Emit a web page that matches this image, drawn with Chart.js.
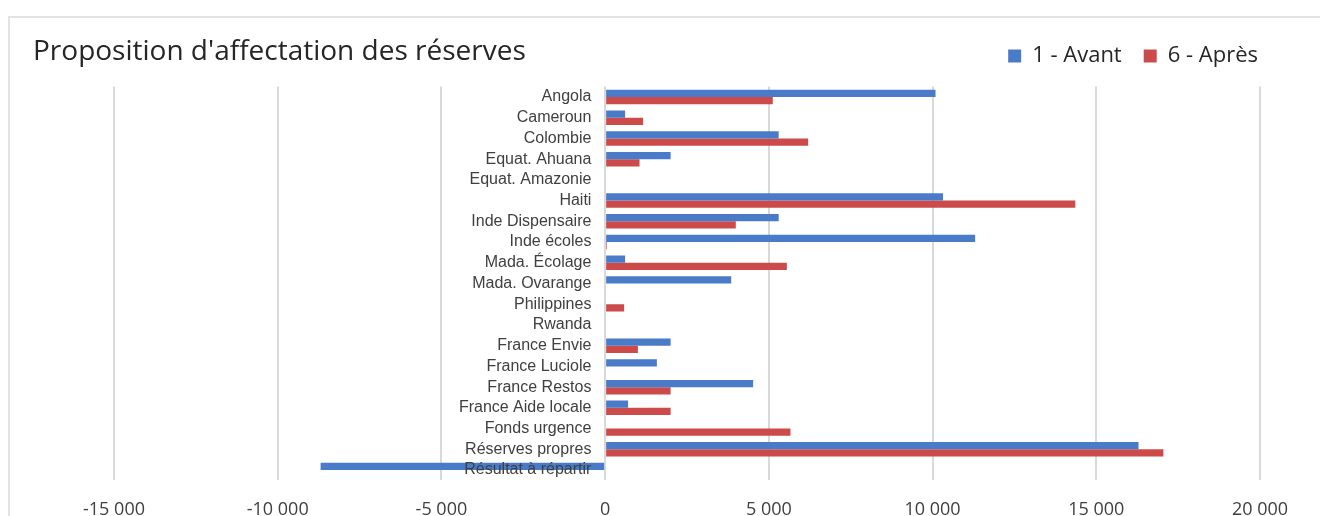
<!DOCTYPE html>
<html>
<head>
<meta charset="utf-8">
<script src="https://cdn.jsdelivr.net/npm/chart.js@4.4.1/dist/chart.umd.min.js"></script>
<style>
  html, body { margin: 0; padding: 0; background: #fff; overflow: hidden; }
  #frame { position: absolute; left: 8px; top: 16px; width: 1330px; height: 520px;
           border: 2px solid #e3e3e3; box-sizing: border-box; }
  #wrap { position: absolute; left: 0; top: 0; width: 1320px; height: 516px; }
</style>
</head>
<body>
<div id="frame"></div>
<div id="wrap"><canvas id="reserves"></canvas></div>
<script>
'use strict'

var categories = ["Angola", "Cameroun", "Colombie", "Equat. Ahuana", "Equat. Amazonie", "Haiti",
  "Inde Dispensaire", "Inde écoles", "Mada. Écolage", "Mada. Ovarange", "Philippines", "Rwanda",
  "France Envie", "France Luciole", "France Restos", "France Aide locale", "Fonds urgence",
  "Réserves propres", "Résultat à répartir"];

var avant = [10090, 610, 5300, 2000, 0, 10320, 5300, 11300, 610, 3850, 0, 0,
  2000, 1580, 4520, 700, 0, 16290, -8690];

var apres = [5120, 1160, 6200, 1050, 0, 14360, 3990, 50, 5550, 0, 580, 0,
  1000, 0, 2000, 2000, 5660, 17050, 0];

var xTicks = [-15000, -10000, -5000, 0, 5000, 10000, 15000, 20000];

function fmt(v) {
  var s = String(Math.abs(v));
  var out = s.length > 3 ? s.slice(0, s.length - 3) + ' ' + s.slice(-3) : s;
  return (v < 0 ? '-' : '') + out;
}

// empty side axes, only used to reserve room so title/legend sit where they should
function spacer(pos, w) {
  return {
    type: 'linear', axis: 'y', position: pos,
    ticks: { display: false },
    grid: { display: false, drawTicks: false },
    border: { display: false },
    afterFit: function (s) { s.width = w; }
  };
}

var ctx = document.getElementById('reserves').getContext('2d');
var chart = new Chart(ctx, {
  type: 'bar',
  data: {
    labels: categories,
    datasets: [{
      label: '1 - Avant',
      data: avant,
      backgroundColor: '#4a7bc8',
      categoryPercentage: 0.7,
      barPercentage: 1.0
    }, {
      label: '6 - Après',
      data: apres,
      backgroundColor: '#cc4a4a',
      categoryPercentage: 0.7,
      barPercentage: 1.0
    }]
  },
  options: {
    indexAxis: 'y',
    responsive: true,
    maintainAspectRatio: false,
    animation: false,
    layout: { padding: { left: 33, right: 40, top: 23, bottom: -24 } },
    plugins: {
      title: {
        display: true,
        weight: 500,
        text: "Proposition d'affectation des réserves",
        align: 'start',
        color: '#262626',
        font: { family: 'Open Sans', size: 28, weight: 'normal' },
        padding: { top: -41.8, bottom: 17.8 }
      },
      legend: {
        position: 'top',
        align: 'end',
        labels: {
          color: '#262626',
          font: { family: 'Open Sans', size: 22 },
          boxWidth: 13,
          boxHeight: 13,
          padding: 22
        }
      },
      tooltip: { enabled: false }
    },
    scales: {
      x: {
        min: -15000,
        max: 20000,
        afterBuildTicks: function (axis) {
          axis.ticks = xTicks.map(function (v) { return { value: v }; });
        },
        ticks: {
          callback: function (v) { return fmt(v); },
          color: '#404040',
          font: { family: 'Open Sans', size: 18 },
          padding: 19,
          maxRotation: 0
        },
        grid: { color: '#d9d9d9', lineWidth: 2, drawTicks: false },
        border: { display: false }
      },
      y: {
        position: { x: -420 },
        ticks: {
          z: 1,
          color: '#404040',
          font: { family: 'Liberation Sans', size: 16 },
          autoSkip: false
        },
        grid: { display: false, drawTicks: false },
        border: { display: false }
      },
      padL: spacer('left', 81),
      padR: spacer('right', 20)
    }
  }
});
</script>
</body>
</html>
